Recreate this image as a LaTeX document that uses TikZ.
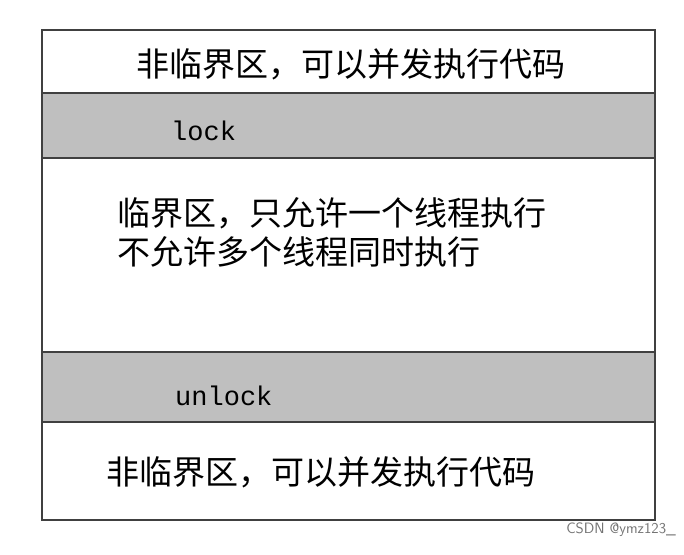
\documentclass[tikz,border=0pt]{standalone}
\usepackage{fontspec}
\newfontfamily\cjk{Noto Sans CJK SC}
\setmonofont{Liberation Mono}
\begin{document}
\begin{tikzpicture}[x=1pt,y=-1pt,
  band/.style={draw=black!75,line width=1.5pt},
  gray band/.style={band,fill=black!25},
  cn/.style={font=\cjk\fontsize{33}{36}\selectfont,anchor=west,inner sep=0},
  code/.style={font=\ttfamily\fontsize{27}{30}\selectfont,anchor=west,inner sep=0}]
\useasboundingbox (0,0) rectangle (684,554);
\draw[band,fill=white] (42,30) rectangle (655,93);
\draw[gray band] (42,93) rectangle (655,158);
\draw[band,fill=white] (42,158) rectangle (655,352);
\draw[gray band] (42,352) rectangle (655,422);
\draw[band,fill=white] (42,422) rectangle (655,520);
\node[cn] (t1) at (136,64) {非临界区，可以并发执行代码};
\node[code] (l) at (171,131) {lock};
\node[cn] (t2) at (117,213) {临界区，只允许一个线程执行};
\node[cn] (t3) at (117,252) {不允许多个线程同时执行};
\node[code] (u) at (175,396) {unlock};
\node[cn] (t4) at (106,472) {非临界区，可以并发执行代码};
\node[font=\sffamily\fontsize{15}{17}\selectfont,text=black!55,anchor=east,inner sep=0] (w) at (676,530) {CSDN @ymz123\_};
\end{tikzpicture}
\end{document}
